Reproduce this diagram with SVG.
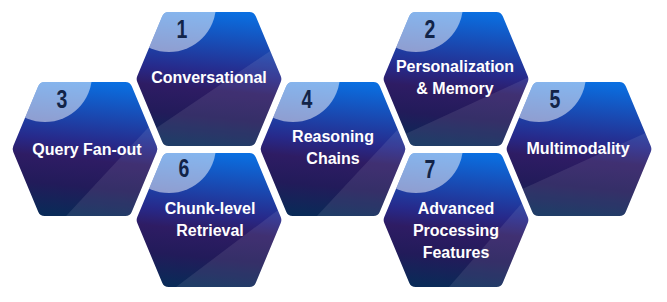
<svg xmlns="http://www.w3.org/2000/svg" xmlns:xlink="http://www.w3.org/1999/xlink" width="667" height="302" viewBox="0 0 667 302">
  <defs>
    <linearGradient id="hexGrad" x1="0.55" y1="0" x2="0.45" y2="1">
      <stop offset="0" stop-color="#0a6ee0"/>
      <stop offset="0.25" stop-color="#1a48b0"/>
      <stop offset="0.45" stop-color="#27298a"/>
      <stop offset="0.58" stop-color="#2e1c64"/>
      <stop offset="0.78" stop-color="#221b5a"/>
      <stop offset="1" stop-color="#0a2a58"/>
    </linearGradient>
    <path id="hex" d="M-40.34,-67 H40.34 A7,7 0 0 1 46.8,-62.7 L71.71,-3.08 A8,8 0 0 1 71.71,3.08 L46.8,62.7 A7,7 0 0 1 40.34,67 H-40.34 A7,7 0 0 1 -46.8,62.7 L-71.71,3.08 A8,8 0 0 1 -71.71,-3.08 L-46.8,-62.7 A7,7 0 0 1 -40.34,-67 Z"/>
    <clipPath id="hexclip">
      <use href="#hex" xlink:href="#hex"/>
    </clipPath>
  </defs>
  <style>
    .hexfill { fill: url(#hexGrad); }
    .badge { fill: #ffffff; fill-opacity: 0.5; }
    .sheen { fill: #ffffff; fill-opacity: 0.09; }
    .num { font-family: "Liberation Sans", Arial, sans-serif; font-weight: bold; font-size: 25px; fill: #122448; text-anchor: middle; }
    .label { font-family: "Liberation Sans", Arial, sans-serif; font-weight: bold; font-size: 16px; fill: #ffffff; text-anchor: middle; }
  </style>

  <g id="connectors"/>

  <g id="node-1" transform="translate(209,79)">
    <use href="#hex" xlink:href="#hex" class="hexfill"/>
    <g clip-path="url(#hexclip)">
      <circle class="badge" cx="-40" cy="-74" r="47"/>
      <polygon class="sheen" points="-123.5,97 130.5,-75 250,250"/>
    </g>
    <text class="num" transform="translate(-27,-41) scale(0.78,1)">1</text>
    <text class="label" x="0" y="4">Conversational</text>
  </g>

  <g id="node-3" transform="translate(85,149)">
    <use href="#hex" xlink:href="#hex" class="hexfill"/>
    <g clip-path="url(#hexclip)">
      <circle class="badge" cx="-40" cy="-74" r="47"/>
      <polygon class="sheen" points="-63,114.5 117,-79.5 250,250"/>
    </g>
    <text class="num" transform="translate(-23,-41) scale(0.78,1)">3</text>
    <text class="label" x="2" y="6">Query Fan-out</text>
  </g>

  <g id="node-4" transform="translate(333,149)">
    <use href="#hex" xlink:href="#hex" class="hexfill"/>
    <g clip-path="url(#hexclip)">
      <circle class="badge" cx="-40" cy="-74" r="47"/>
      <polygon class="sheen" points="-52,105.5 123,-82 250,250"/>
    </g>
    <text class="num" transform="translate(-26,-41) scale(0.78,1)">4</text>
    <text class="label" x="0" y="-7">Reasoning</text>
    <text class="label" x="0" y="15">Chains</text>
  </g>

  <g id="node-2" transform="translate(456,79)">
    <use href="#hex" xlink:href="#hex" class="hexfill"/>
    <g clip-path="url(#hexclip)">
      <circle class="badge" cx="-40" cy="-74" r="47"/>
      <polygon class="sheen" points="-116,85 132,-29 250,250"/>
    </g>
    <text class="num" transform="translate(-26,-41) scale(0.78,1)">2</text>
    <text class="label" x="-1" y="-7">Personalization</text>
    <text class="label" x="-1" y="15">&amp; Memory</text>
  </g>

  <g id="node-5" transform="translate(579,149)">
    <use href="#hex" xlink:href="#hex" class="hexfill"/>
    <g clip-path="url(#hexclip)">
      <circle class="badge" cx="-40" cy="-74" r="47"/>
      <polygon class="sheen" points="-141.5,78.5 144.5,-51.5 250,250"/>
    </g>
    <text class="num" transform="translate(-24,-41) scale(0.78,1)">5</text>
    <text class="label" x="-1" y="5">Multimodality</text>
  </g>

  <g id="node-6" transform="translate(209,220)">
    <use href="#hex" xlink:href="#hex" class="hexfill"/>
    <g clip-path="url(#hexclip)">
      <circle class="badge" cx="-40" cy="-74" r="47"/>
      <polygon class="sheen" points="-86,107 126,-53 250,250"/>
    </g>
    <text class="num" transform="translate(-25,-43) scale(0.78,1)">6</text>
    <text class="label" x="1" y="-6">Chunk-level</text>
    <text class="label" x="1" y="16">Retrieval</text>
  </g>

  <g id="node-7" transform="translate(456,220)">
    <use href="#hex" xlink:href="#hex" class="hexfill"/>
    <g clip-path="url(#hexclip)">
      <circle class="badge" cx="-40" cy="-74" r="47"/>
      <polygon class="sheen" points="-43.5,109 102.5,-59 250,250"/>
    </g>
    <text class="num" transform="translate(-26,-42) scale(0.78,1)">7</text>
    <text class="label" x="0" y="-6">Advanced</text>
    <text class="label" x="0" y="16">Processing</text>
    <text class="label" x="0" y="38">Features</text>
  </g>
</svg>
